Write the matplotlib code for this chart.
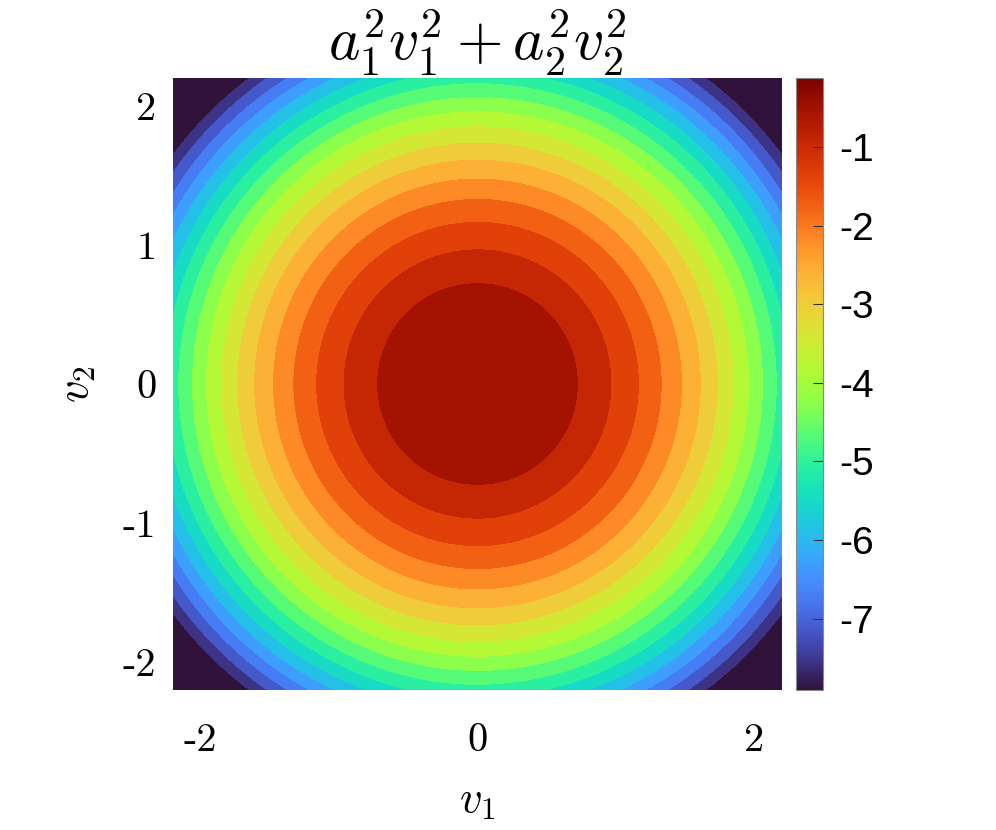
import numpy as np
import matplotlib.pyplot as plt
import matplotlib as mpl

plt.rcParams['mathtext.fontset'] = 'cm'
plt.rcParams['axes.formatter.use_mathtext'] = True

# parametros da funcao (a1 = a2 -> circulos)
a1 = 1.0
a2 = 1.0
v_lim = 2.2

# niveis de contorno (crescentes)
niveis = [-7.55, -7.14, -6.72, -6.31, -5.90, -5.48, -5.07, -4.66, -4.24,
          -3.83, -3.42, -3.00, -2.59, -2.17, -1.76, -1.35, -0.93, -0.52]
# limites da barra de cores
c_min = -7.91
c_max = -0.12

xticks = [-2, 0, 2]
yticks = [-2, -1, 0, 1, 2]
cticks = [-7, -6, -5, -4, -3, -2, -1]

v1 = np.linspace(-v_lim, v_lim, 600)
v2 = np.linspace(-v_lim, v_lim, 600)
V1, V2 = np.meshgrid(v1, v2)
F = -(a1**2 * V1**2 + a2**2 * V2**2)

cmap = plt.get_cmap('turbo')
norm = mpl.colors.Normalize(vmin=c_min, vmax=c_max)

lev = [F.min() - 1e-6] + niveis + [F.max() + 1e-6]
# cada faixa recebe a cor do nivel inferior (como no MATLAB)
cores = [cmap(0.0)] + [cmap(norm(n)) for n in niveis]

fig = plt.figure(figsize=(9.96, 8.30), dpi=100)
ax = fig.add_axes([173/996, 1 - 690/830, (782-173)/996, (690-78)/830])
ax.contourf(V1, V2, F, levels=lev, colors=cores, antialiased=False)
ax.set_xlim(-v_lim, v_lim)
ax.set_ylim(-v_lim, v_lim)
for s in ax.spines.values():
    s.set_visible(False)

ax.set_xticks(xticks)
ax.set_yticks(yticks)
ax.set_xticklabels([str(t) for t in xticks], fontfamily='cmr10', fontsize=29)
ax.set_yticklabels([str(t) for t in yticks], fontfamily='cmr10', fontsize=29)
ax.tick_params(axis='x', length=0, pad=24)
ax.tick_params(axis='y', length=0, pad=12)

ax.set_xlabel(r'$v_1$', fontsize=32, labelpad=14)
ax.set_ylabel(r'$v_2$', fontsize=32, labelpad=18)
ax.set_title(r'$a_1^2 v_1^2 + a_2^2 v_2^2$', fontsize=43, pad=6)

cax = fig.add_axes([796/996, 1 - 690/830, 27/996, (690-78)/830])
sm = mpl.cm.ScalarMappable(norm=norm, cmap=cmap)
cb = fig.colorbar(sm, cax=cax, ticks=cticks)
cb.outline.set_edgecolor('#888888')
cb.outline.set_linewidth(0.8)
cax.tick_params(direction='in', length=7, width=0.8, color='#333333', pad=12,
                labelsize=28)
cax.set_yticklabels([str(t) for t in cticks], fontfamily='Liberation Sans')

plt.savefig('out.png', dpi=100)
